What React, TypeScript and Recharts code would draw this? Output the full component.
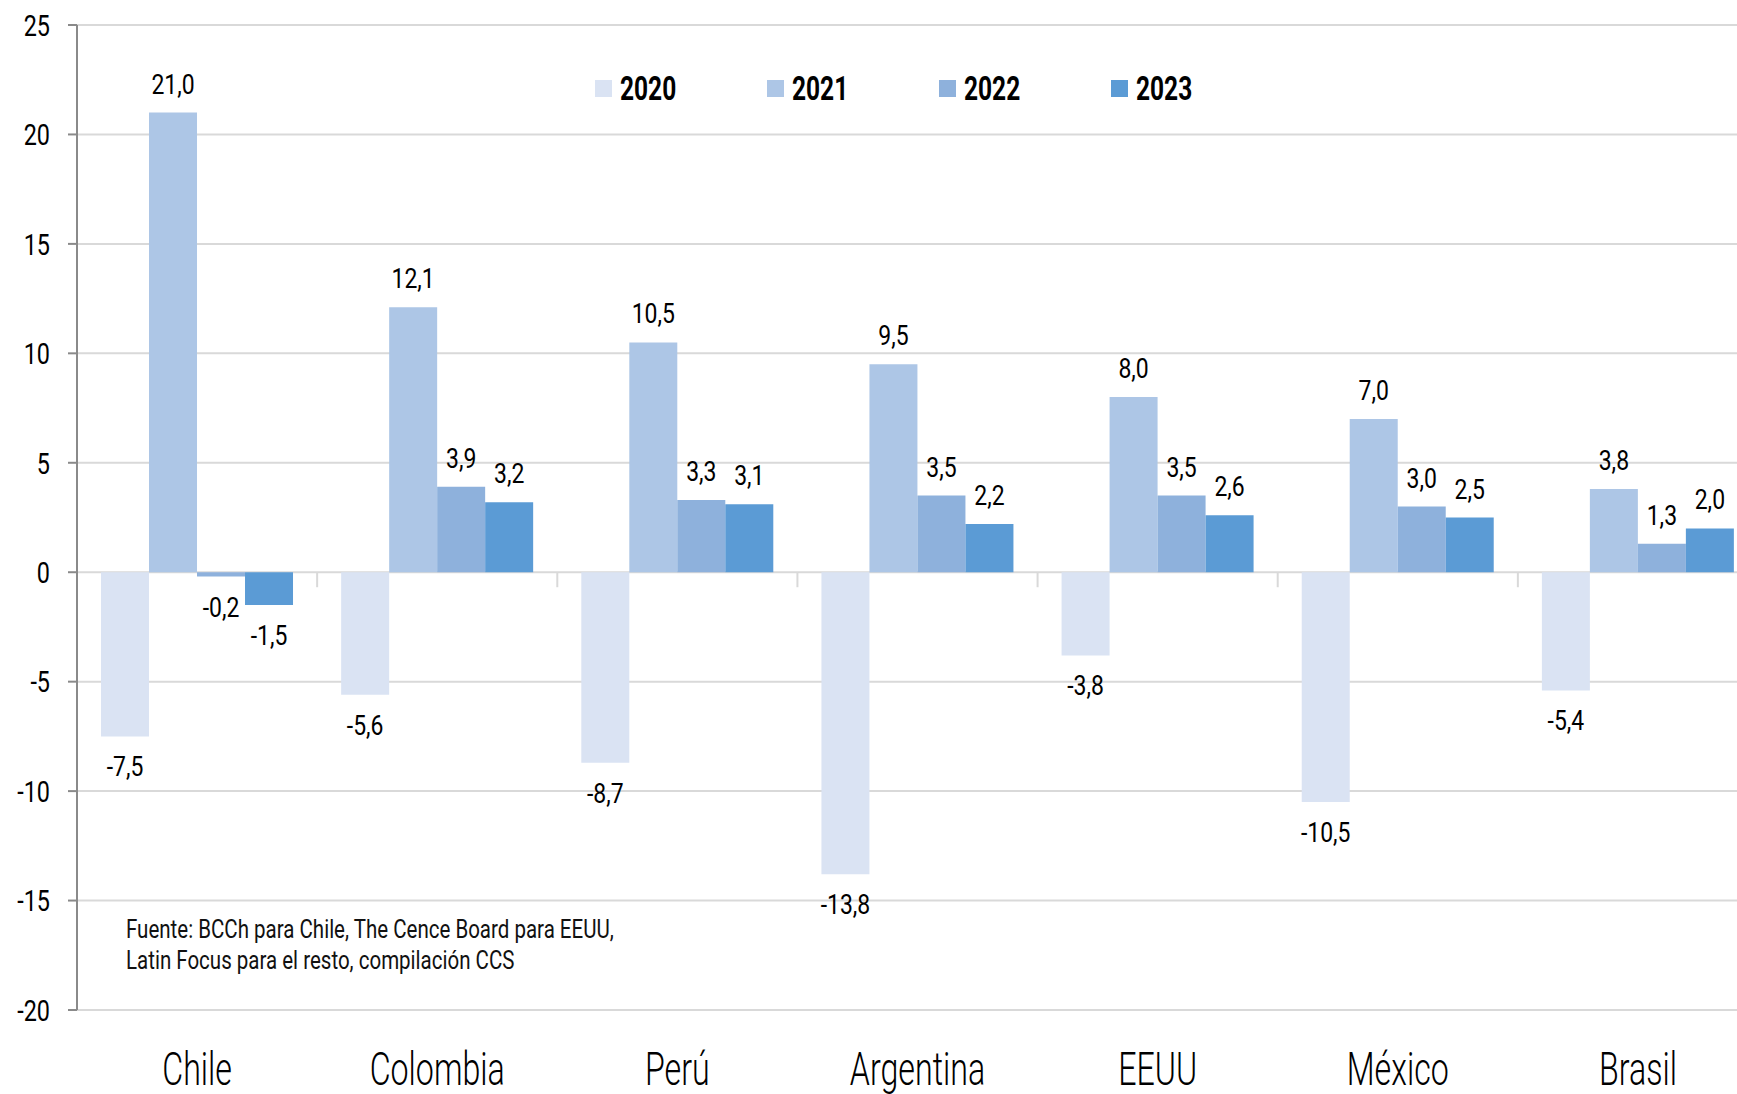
import { BarChart, Bar, XAxis, YAxis, CartesianGrid, LabelList } from 'recharts';

// values (Spanish decimal comma in labels)
const countries = ['Chile', 'Colombia', 'Perú', 'Argentina', 'EEUU', 'México', 'Brasil'];
const y2020 = [-7.5, -5.6, -8.7, -13.8, -3.8, -10.5, -5.4];
const y2021 = [21.0, 12.1, 10.5, 9.5, 8.0, 7.0, 3.8];
const y2022 = [-0.2, 3.9, 3.3, 3.5, 3.5, 3.0, 1.3];
const y2023 = [-1.5, 3.2, 3.1, 2.2, 2.6, 2.5, 2.0];
const yTicks = [-20, -15, -10, -5, 0, 5, 10, 15, 20, 25];

const SERIES = [
  { key: 'y2020', name: '2020', color: '#dae3f3' },
  { key: 'y2021', name: '2021', color: '#adc6e6' },
  { key: 'y2022', name: '2022', color: '#8eb1dc' },
  { key: 'y2023', name: '2023', color: '#5b9bd5' },
];

const data = countries.map((c, i) => ({
  country: c,
  y2020: y2020[i],
  y2021: y2021[i],
  y2022: y2022[i],
  y2023: y2023[i],
}));

// no condensed face installed, so Roboto gets squeezed horizontally
const FONT = 'Roboto, "Noto Sans", sans-serif';

const W = 1758;
const H = 1094;
const MARGIN = { top: 25, right: 0, bottom: 0, left: 0 };
const XAXIS_H = 84;
const Y_MIN = -20;
const Y_MAX = 25;
const PLOT_TOP = MARGIN.top;
const PLOT_BOTTOM = H - MARGIN.bottom - XAXIS_H;
const ZERO_Y = PLOT_TOP + ((Y_MAX - 0) / (Y_MAX - Y_MIN)) * (PLOT_BOTTOM - PLOT_TOP);

const fmt = (v: any) => Number(v).toFixed(1).replace('.', ',');

function SqText({ x, y, sx, anchor = 'middle', size, weight = 400, dy, children }: any) {
  return (
    <text
      transform={`translate(${x},${y}) scale(${sx},1)`}
      textAnchor={anchor}
      dy={dy}
      fontSize={size}
      fontWeight={weight}
      fontFamily={FONT}
      fill="#000"
    >
      {children}
    </text>
  );
}

function CategoryTick(props: any) {
  const { x, y, payload, index } = props;
  const half = payload.offset ?? 120;
  return (
    <g>
      {index > 0 && (
        <line x1={x - half} x2={x - half} y1={ZERO_Y} y2={ZERO_Y + 15} stroke="#d9d9d9" strokeWidth={2} />
      )}
      <SqText x={x} y={y + 67} sx={0.7} size={46} weight={300}>
        {payload.value}
      </SqText>
    </g>
  );
}

function ValueTick(props: any) {
  const { x, y, payload } = props;
  return (
    <SqText x={x} y={y} sx={0.78} anchor="end" size={30} dy="0.36em">
      {payload.value}
    </SqText>
  );
}

function BarValue(props: any) {
  const { x, y, width, height, value } = props;
  const top = Math.min(y, y + height);
  const bottom = Math.max(y, y + height);
  const ly = value >= 0 ? top - 19 : bottom + 40;
  return (
    <SqText x={x + width / 2} y={ly} sx={0.82} size={28}>
      {fmt(value)}
    </SqText>
  );
}

export default function App() {
  return (
    <div
      style={{
        position: 'fixed',
        left: 0,
        top: 0,
        width: 1737,
        height: 1094,
        overflow: 'hidden',
        background: '#fff',
      }}
    >
      <BarChart width={W} height={H} data={data} margin={MARGIN} barCategoryGap="10%" barGap={0}>
        <CartesianGrid vertical={false} stroke="#d9d9d9" strokeWidth={2} />
        <XAxis
          dataKey="country"
          height={XAXIS_H}
          axisLine={false}
          tickLine={false}
          interval={0}
          tick={<CategoryTick />}
        />
        <YAxis
          width={77}
          domain={[Y_MIN, Y_MAX]}
          ticks={yTicks}
          interval={0}
          axisLine={{ stroke: '#8a8a8a', strokeWidth: 2 }}
          tickLine={{ stroke: '#8a8a8a', strokeWidth: 2 }}
          tickSize={9}
          tickMargin={18}
          tick={<ValueTick />}
        />
        {SERIES.map((s) => (
          <Bar key={s.key} dataKey={s.key} name={s.name} fill={s.color} isAnimationActive={false}>
            <LabelList dataKey={s.key} content={<BarValue />} />
          </Bar>
        ))}
      </BarChart>

      {/* legend */}
      <div style={{ position: 'absolute', top: 68, left: 595, display: 'flex', fontFamily: FONT }}>
        {SERIES.map((s) => (
          <div key={s.key} style={{ display: 'flex', alignItems: 'center', width: 172 }}>
            <span style={{ width: 17, height: 17, background: s.color, marginRight: 8 }} />
            <span
              style={{
                display: 'inline-block',
                fontSize: 34,
                fontWeight: 700,
                color: '#000',
                lineHeight: '40px',
                transform: 'scaleX(0.72)',
                transformOrigin: 'left center',
              }}
            >
              {s.name}
            </span>
          </div>
        ))}
      </div>

      {/* source note */}
      <div
        style={{
          position: 'absolute',
          top: 914,
          left: 126,
          fontFamily: FONT,
          fontSize: 25,
          lineHeight: '31px',
          color: '#111',
          whiteSpace: 'nowrap',
          transform: 'scaleX(0.82)',
          transformOrigin: 'left top',
        }}
      >
        Fuente: BCCh para Chile, The Cence Board para EEUU,
        <br />
        Latin Focus para el resto, compilación CCS
      </div>
    </div>
  );
}
